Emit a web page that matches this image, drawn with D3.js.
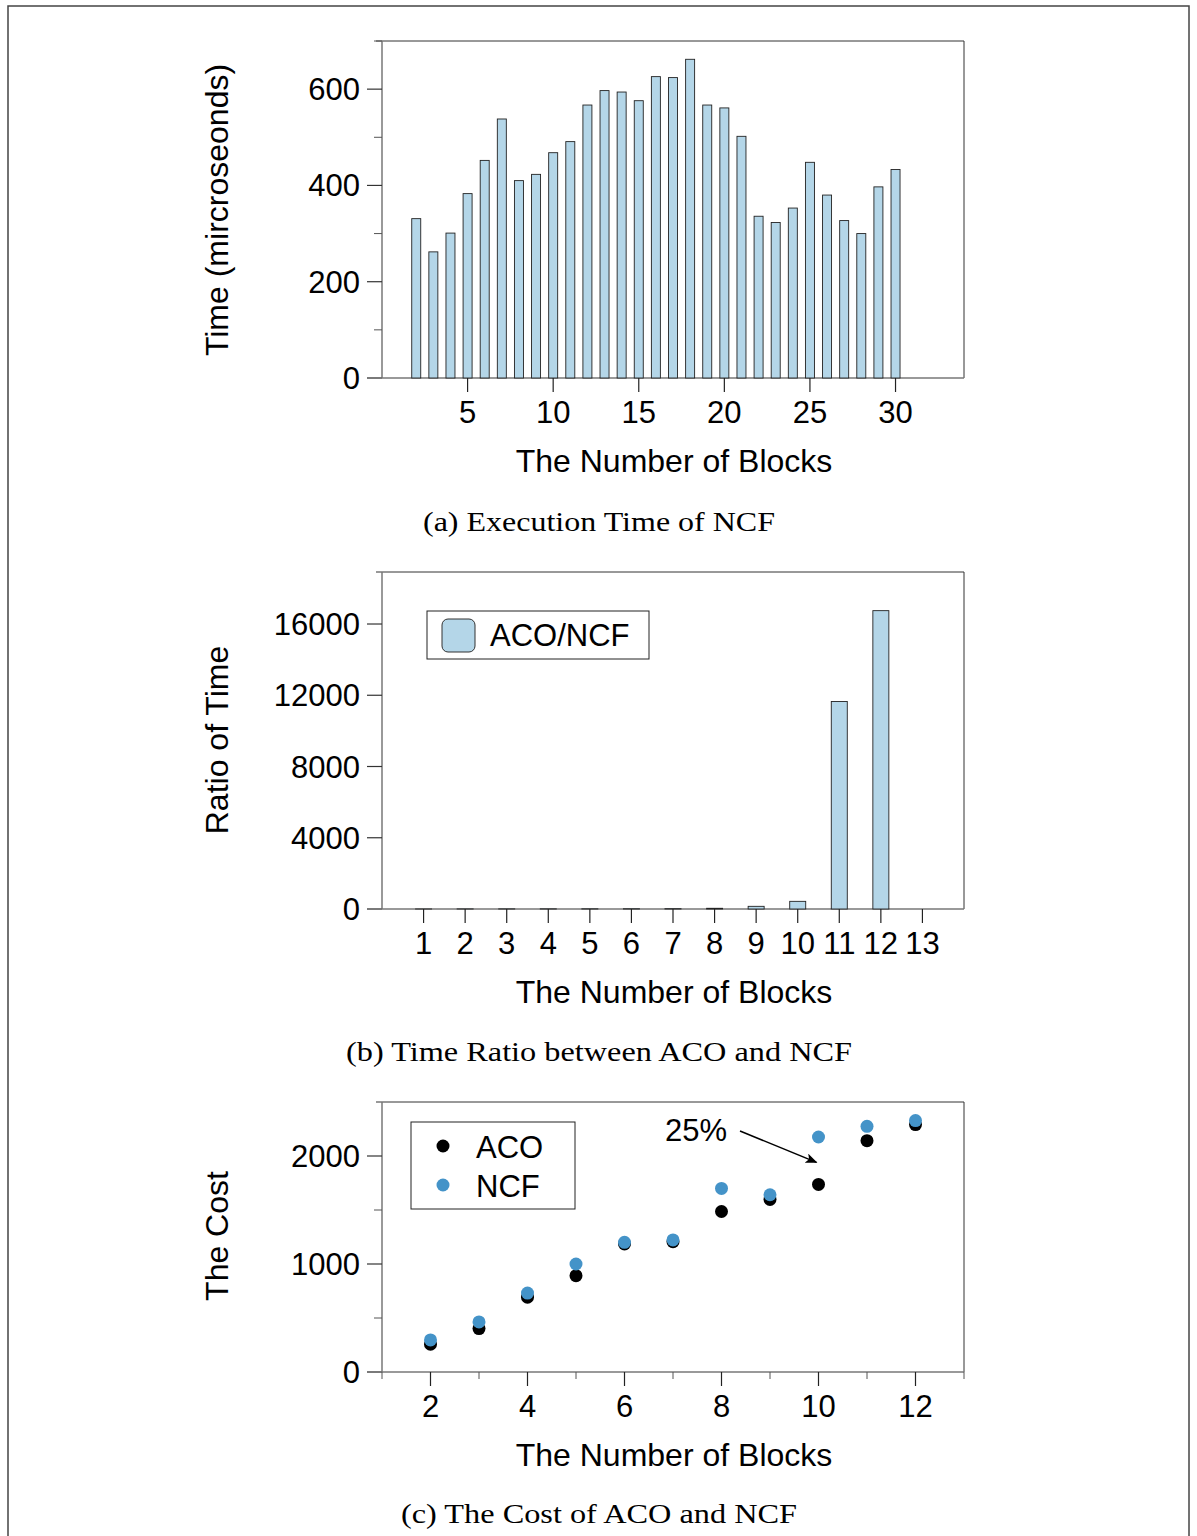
<!DOCTYPE html>
<html lang="en">
<head>
<meta charset="UTF-8">
<title>NCF vs ACO</title>
<script src="https://cdn.jsdelivr.net/npm/d3@7"></script>
<style>
  body { margin: 0; background: #fff; }
  svg { display: block; }
  text { font-family: "Liberation Sans", Arial, Helvetica, sans-serif; fill: #000; }
  .caption { font-family: "Liberation Serif", "Times New Roman", serif; }
</style>
</head>
<body>
<svg id="fig" width="1197" height="1536"></svg>
<script>
// (a) execution time of NCF
var blocksA = [2,3,4,5,6,7,8,9,10,11,12,13,14,15,16,17,18,19,20,21,22,23,24,25,26,27,28,29,30];
var execTime = [331,262,301,383,452,538,410,423,468,491,567,597,594,576,626,624,662,567,561,502,336,323,353,448,380,327,300,397,433];
var ticksA = [0,200,400,600];

// (b) time ratio ACO/NCF
var blocksB = [1,2,3,4,5,6,7,8,9,10,11,12];
var ratio = [2,6,8,10,12,15,20,40,150,430,11650,16750];
var ticksBx = [1,2,3,4,5,6,7,8,9,10,11,12,13];
var ticksBy = [0,4000,8000,12000,16000];

// (c) cost of ACO and NCF
var blocksC = [2,3,4,5,6,7,8,9,10,11,12];
var costACO = [257,402,693,892,1186,1207,1486,1598,1737,2142,2291];
var costNCF = [297,464,731,1000,1201,1223,1700,1641,2176,2275,2328];
var ticksCx = [2,4,6,8,10,12];
var ticksCy = [0,1000,2000];

var barFill = "#b4d6e8";
var blue = "#4493c8";
var axisGrey = "#777";

var svg = d3.select("#fig");

// outer page border
svg.append("rect")
	.attr("x", 8).attr("y", 6)
	.attr("width", 1181).attr("height", 1600)
	.attr("fill", "none").attr("stroke", "#444").attr("stroke-width", 1.5);

svg.append("defs").append("marker")
	.attr("id", "arrow")
	.attr("viewBox", "0 0 12 10")
	.attr("refX", 11).attr("refY", 5)
	.attr("markerWidth", 12).attr("markerHeight", 10)
	.attr("markerUnits", "userSpaceOnUse")
	.attr("orient", "auto")
	.append("path")
	.attr("d", "M0,0 L12,5 L0,10 L3,5 Z")
	.attr("fill", "#000");

// draws the frame + axes shared by all three panels
function drawFrame(x, y, opt) {
	var x0 = x.range()[0], x1 = x.range()[1];
	var y0 = y.range()[0], y1 = y.range()[1];
	var g = svg.append("g");

	// top + right frame
	g.append("path")
		.attr("d", "M" + (x0 - 6) + "," + y1 + "H" + x1 + "V" + y0)
		.attr("fill", "none").attr("stroke", "#333").attr("stroke-width", 1);

	// y axis
	g.append("line").attr("x1", x0).attr("x2", x0).attr("y1", y1).attr("y2", y0)
		.attr("stroke", axisGrey).attr("stroke-width", 1.5);
	g.selectAll(".ymin").data(opt.yMinor).enter().append("line")
		.attr("x1", x0 - 8).attr("x2", x0)
		.attr("y1", function (d) { return y(d); }).attr("y2", function (d) { return y(d); })
		.attr("stroke", "#555").attr("stroke-width", 1);
	g.selectAll(".ymaj").data(opt.yTicks).enter().append("line")
		.attr("x1", x0 - 15).attr("x2", x0)
		.attr("y1", function (d) { return y(d); }).attr("y2", function (d) { return y(d); })
		.attr("stroke", "#333").attr("stroke-width", 1.2);
	g.selectAll(".ylab").data(opt.yTicks).enter().append("text")
		.attr("x", x0 - 22)
		.attr("y", function (d) { return y(d) + 11; })
		.attr("text-anchor", "end")
		.attr("font-size", 31)
		.text(function (d) { return d; });

	// x axis
	g.append("line").attr("x1", x0 - 15).attr("x2", x1).attr("y1", y0).attr("y2", y0)
		.attr("stroke", axisGrey).attr("stroke-width", 1.5);
	g.selectAll(".xmin").data(opt.xMinor).enter().append("line")
		.attr("x1", function (d) { return x(d); }).attr("x2", function (d) { return x(d); })
		.attr("y1", y0).attr("y2", y0 + 7)
		.attr("stroke", "#555").attr("stroke-width", 1);
	g.selectAll(".xmaj").data(opt.xTicks).enter().append("line")
		.attr("x1", function (d) { return x(d); }).attr("x2", function (d) { return x(d); })
		.attr("y1", y0).attr("y2", y0 + 14)
		.attr("stroke", "#222").attr("stroke-width", 1.2);
	g.selectAll(".xlab").data(opt.xTicks).enter().append("text")
		.attr("x", function (d) { return x(d); })
		.attr("y", y0 + 45)
		.attr("text-anchor", "middle")
		.attr("font-size", 31)
		.text(function (d) { return d; });

	// titles
	g.append("text")
		.attr("x", 674).attr("y", y0 + 94)
		.attr("text-anchor", "middle").attr("font-size", 32)
		.text("The Number of Blocks");
	g.append("text")
		.attr("transform", "translate(228," + opt.yTitleY + ") rotate(-90)")
		.attr("text-anchor", "middle").attr("font-size", 32)
		.text(opt.yTitle);
	g.append("text")
		.attr("class", "caption")
		.attr("x", 599).attr("y", opt.capY)
		.attr("text-anchor", "middle").attr("font-size", 28)
		.attr("textLength", opt.capW).attr("lengthAdjust", "spacingAndGlyphs")
		.text(opt.caption);
	return g;
}

// ---------- (a) ----------
var xA = d3.scaleLinear().domain([0, 34]).range([382, 964]);
var yA = d3.scaleLinear().domain([0, 700]).range([378, 41]);
var gA = drawFrame(xA, yA, {
	yTicks: ticksA, yMinor: [100,300,500,700],
	xTicks: [5,10,15,20,25,30], xMinor: [],
	yTitle: "Time (mircroseonds)", yTitleY: 210,
	caption: "(a) Execution Time of NCF", capY: 531, capW: 352
});
gA.selectAll(".bar").data(execTime).enter().append("rect")
	.attr("x", function (d, i) { return xA(blocksA[i]) - 4.5; })
	.attr("y", function (d) { return yA(d); })
	.attr("width", 9)
	.attr("height", function (d) { return yA(0) - yA(d); })
	.attr("fill", barFill).attr("stroke", "#222").attr("stroke-width", 0.9);

// ---------- (b) ----------
var xB = d3.scaleLinear().domain([0, 14]).range([382, 964]);
var yB = d3.scaleLinear().domain([0, 18920]).range([909, 572]);
var gB = drawFrame(xB, yB, {
	yTicks: ticksBy, yMinor: [],
	xTicks: ticksBx, xMinor: [],
	yTitle: "Ratio of Time", yTitleY: 740,
	caption: "(b) Time Ratio between ACO and NCF", capY: 1061, capW: 506
});
gB.selectAll(".bar").data(ratio).enter().append("rect")
	.attr("x", function (d, i) { return xB(blocksB[i]) - 8; })
	.attr("y", function (d) { return yB(d); })
	.attr("width", 16)
	.attr("height", function (d) { return yB(0) - yB(d); })
	.attr("fill", barFill).attr("stroke", "#222").attr("stroke-width", 0.9);
gB.append("rect")
	.attr("x", 427).attr("y", 611).attr("width", 222).attr("height", 48)
	.attr("fill", "#fff").attr("stroke", "#222").attr("stroke-width", 1);
gB.append("rect")
	.attr("x", 442).attr("y", 619).attr("width", 33).attr("height", 33).attr("rx", 6)
	.attr("fill", barFill).attr("stroke", "#333").attr("stroke-width", 1);
gB.append("text").attr("x", 490).attr("y", 646).attr("font-size", 31).text("ACO/NCF");

// ---------- (c) ----------
var xC = d3.scaleLinear().domain([1, 13]).range([382, 964]);
var yC = d3.scaleLinear().domain([0, 2500]).range([1372, 1102]);
var gC = drawFrame(xC, yC, {
	yTicks: ticksCy, yMinor: [500,1500],
	xTicks: ticksCx, xMinor: [1,3,5,7,9,11,13],
	yTitle: "The Cost", yTitleY: 1236,
	caption: "(c) The Cost of ACO and NCF", capY: 1523, capW: 396
});
gC.selectAll(".aco").data(costACO).enter().append("circle")
	.attr("cx", function (d, i) { return xC(blocksC[i]); })
	.attr("cy", function (d) { return yC(d); })
	.attr("r", 6.5).attr("fill", "#000");
gC.selectAll(".ncf").data(costNCF).enter().append("circle")
	.attr("cx", function (d, i) { return xC(blocksC[i]); })
	.attr("cy", function (d) { return yC(d); })
	.attr("r", 6.5).attr("fill", blue);

gC.append("rect")
	.attr("x", 411).attr("y", 1122).attr("width", 164).attr("height", 87)
	.attr("fill", "#fff").attr("stroke", "#222").attr("stroke-width", 1);
gC.append("circle").attr("cx", 443).attr("cy", 1146).attr("r", 6.5).attr("fill", "#000");
gC.append("circle").attr("cx", 443).attr("cy", 1185).attr("r", 6.5).attr("fill", blue);
gC.append("text").attr("x", 476).attr("y", 1158).attr("font-size", 31).text("ACO");
gC.append("text").attr("x", 476).attr("y", 1197).attr("font-size", 31).text("NCF");

// 25% annotation pointing at the ACO point at 10 blocks
gC.append("text").attr("x", 665).attr("y", 1141).attr("font-size", 31).text("25%");
gC.append("line")
	.attr("x1", 740).attr("y1", 1131)
	.attr("x2", xC(10) - 2).attr("y2", yC(costACO[8]) - 22)
	.attr("stroke", "#000").attr("stroke-width", 1.5)
	.attr("marker-end", "url(#arrow)");
</script>
</body>
</html>
